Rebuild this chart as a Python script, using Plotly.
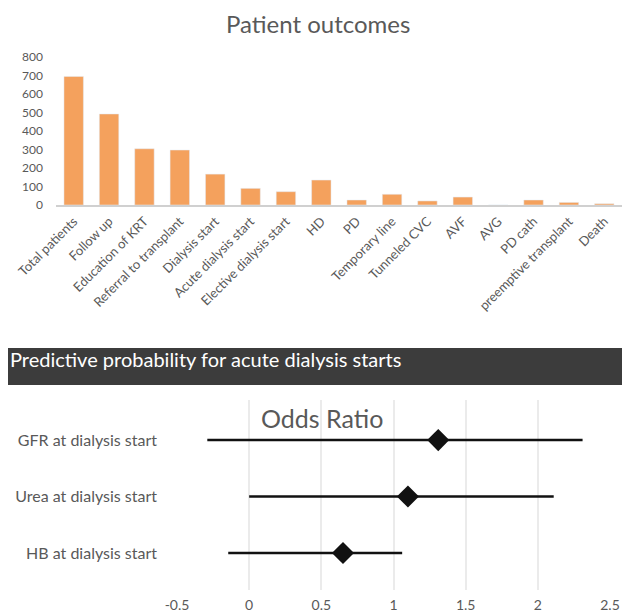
import plotly.graph_objects as go

# ---- data: top bar chart ----
categories = ["Total patients", "Follow up", "Education of KRT", "Referral to transplant",
              "Dialysis start", "Acute dialysis start", "Elective dialysis start", "HD", "PD",
              "Temporary line", "Tunneled CVC", "AVF", "AVG", "PD cath",
              "preemptive transplant", "Death"]
counts = [695, 492, 304, 297, 167, 90, 72, 135, 27, 58, 22, 43, 0, 27, 14, 7]
y_ticks = [0, 100, 200, 300, 400, 500, 600, 700, 800]

# ---- data: forest plot ----
predictors = ["GFR at dialysis start", "Urea at dialysis start", "HB at dialysis start"]
odds_ratio = [1.31, 1.10, 0.65]
ci_low = [-0.29, 0.0, -0.145]
ci_high = [2.31, 2.11, 1.06]
x_ticks = [-0.5, 0, 0.5, 1, 1.5, 2, 2.5]
x_tick_text = ["-0.5", "0", "0.5", "1", "1.5", "2", "2.5"]

# page body has an 8px margin: map screenshot pixels to figure pixels
OFF = 8
W, H = 630 - OFF, 615 - OFF
def px(x):
    return max(0.0, (x - OFF) / W)
def py(y):
    return min(1.0, 1 - (y - OFF) / H)

grey = "#595959"
font = "Lato"

fig = go.Figure()

fig.add_trace(go.Bar(x=categories, y=counts, marker_color="#f4a15d",
                     xaxis="x", yaxis="y", showlegend=False))

ypos = [len(predictors) - 1 - i for i in range(len(predictors))]
fig.add_trace(go.Scatter(
    x=odds_ratio, y=ypos, mode="markers",
    marker=dict(symbol="diamond", size=17, color="#111111"),
    error_x=dict(type="data", symmetric=False,
                 array=[h - o for h, o in zip(ci_high, odds_ratio)],
                 arrayminus=[o - l for o, l in zip(odds_ratio, ci_low)],
                 color="#111111", thickness=2.5, width=0),
    xaxis="x2", yaxis="y2", showlegend=False))

fig.update_layout(
    width=W, height=H,
    margin=dict(l=0, r=0, t=0, b=0, autoexpand=False),
    paper_bgcolor="white", plot_bgcolor="white",
    font=dict(family=font, color=grey),
    bargap=0.45,
    xaxis=dict(domain=[px(56), px(622)], anchor="y", tickangle=-45, automargin=False,
               tickfont=dict(size=13, color=grey), showline=True,
               linecolor="#d0d0d0", linewidth=1.5, ticks="", showgrid=False,
               ticklabelstandoff=2),
    yaxis=dict(domain=[py(205), py(57)], anchor="x", range=[0, 800], automargin=False,
               tickvals=y_ticks, tickfont=dict(size=12, color=grey),
               showgrid=False, zeroline=False, ticks="", ticklabelstandoff=12),
    xaxis2=dict(domain=[px(177), px(610)], anchor="y2", range=[-0.5, 2.5], automargin=False,
                tickvals=x_ticks, ticktext=x_tick_text,
                tickfont=dict(size=14, color=grey), showgrid=True,
                gridcolor="#ebebeb", gridwidth=1.5, zeroline=False, ticks="",
                showline=False, ticklabelstandoff=5),
    yaxis2=dict(domain=[py(590), py(400)], anchor="x2", range=[-0.655, 2.71], automargin=False,
                tickvals=ypos, ticktext=predictors,
                tickfont=dict(size=16, color=grey), showgrid=False,
                zeroline=False, ticks="", ticklabelstandoff=19),
    shapes=[dict(type="rect", xref="paper", yref="paper",
                 x0=px(7), x1=1, y0=py(385), y1=py(348),
                 fillcolor="#3c3c3c", line=dict(width=0), layer="below")],
    annotations=[
        dict(text="Patient outcomes", xref="paper", yref="paper", x=px(318), y=py(23),
             xanchor="center", yanchor="middle", showarrow=False,
             font=dict(size=24, color=grey, family=font)),
        dict(text="Predictive probability for acute dialysis starts", xref="paper",
             yref="paper", x=px(8), y=py(359), xanchor="left", yanchor="middle",
             showarrow=False, font=dict(size=20, color="white", family=font)),
        dict(text="Odds Ratio", xref="paper", yref="paper", x=px(322), y=py(418),
             xanchor="center", yanchor="middle", showarrow=False,
             font=dict(size=25, color=grey, family=font)),
    ],
)

fig.write_html("out.html")
